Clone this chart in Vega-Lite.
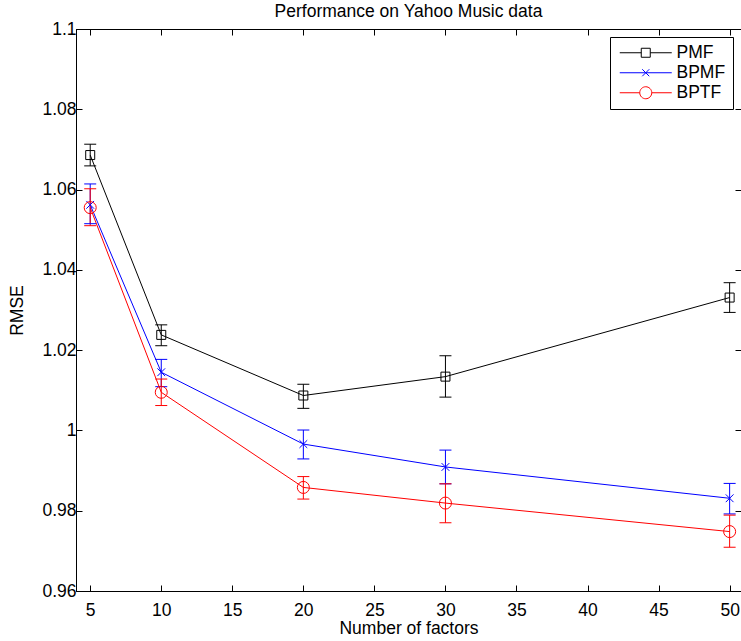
{
  "$schema": "https://vega.github.io/schema/vega-lite/v6.json",
  "width": 665,
  "height": 562,
  "autosize": "none",
  "padding": {"left": 76, "top": 29, "right": 0, "bottom": 50},
  "title": {"text": "Performance on Yahoo Music data", "offset": 0},
  "data": {"values": [
    {"series": "PMF", "factors": 5, "rmse": 1.0686, "lo": 1.0659, "hi": 1.0713},
    {"series": "PMF", "factors": 10, "rmse": 1.0238, "lo": 1.0211, "hi": 1.0263},
    {"series": "PMF", "factors": 20, "rmse": 1.0087, "lo": 1.0055, "hi": 1.0115},
    {"series": "PMF", "factors": 30, "rmse": 1.0134, "lo": 1.0083, "hi": 1.0186},
    {"series": "PMF", "factors": 50, "rmse": 1.0331, "lo": 1.0294, "hi": 1.0368},
    {"series": "BPMF", "factors": 5, "rmse": 1.0562, "lo": 1.0515, "hi": 1.0614},
    {"series": "BPMF", "factors": 10, "rmse": 1.0145, "lo": 1.0109, "hi": 1.0177},
    {"series": "BPMF", "factors": 20, "rmse": 0.9966, "lo": 0.9929, "hi": 1.0001},
    {"series": "BPMF", "factors": 30, "rmse": 0.9909, "lo": 0.9867, "hi": 0.9951},
    {"series": "BPMF", "factors": 50, "rmse": 0.9831, "lo": 0.9792, "hi": 0.9868},
    {"series": "BPTF", "factors": 5, "rmse": 1.0555, "lo": 1.0510, "hi": 1.0602},
    {"series": "BPTF", "factors": 10, "rmse": 1.0095, "lo": 1.0062, "hi": 1.0128},
    {"series": "BPTF", "factors": 20, "rmse": 0.9858, "lo": 0.9829, "hi": 0.9885},
    {"series": "BPTF", "factors": 30, "rmse": 0.9819, "lo": 0.9770, "hi": 0.9867},
    {"series": "BPTF", "factors": 50, "rmse": 0.9748, "lo": 0.9709, "hi": 0.9789}
  ]},
  "layer": [
    {
      "encoding": {
        "x": {"field": "factors", "type": "quantitative",
              "scale": {"domain": [4, 50.8], "nice": false, "zero": false},
              "axis": {"values": [5, 10, 15, 20, 25, 30, 35, 40, 45, 50], "title": "Number of factors", "labelPadding": 16, "titlePadding": 1}}
      },
      "layer": [
        {
          "mark": {"type": "line", "strokeWidth": 1},
          "encoding": {
            "y": {"field": "rmse", "type": "quantitative",
                  "scale": {"domain": [0.96, 1.1], "nice": false, "zero": false},
                  "axis": {"values": [0.96, 0.98, 1, 1.02, 1.04, 1.06, 1.08, 1.1], "format": ".2~f", "title": "RMSE", "labelPadding": 6, "titlePadding": 15}},
            "color": {"field": "series", "type": "nominal",
                      "scale": {"domain": ["PMF", "BPMF", "BPTF"], "range": ["#000000", "#0000ff", "#ff0000"]}}
          }
        },
        {
          "mark": {"type": "rule", "strokeWidth": 1},
          "encoding": {
            "y": {"field": "lo", "type": "quantitative"},
            "y2": {"field": "hi"},
            "color": {"field": "series", "type": "nominal"}
          }
        },
        {
          "mark": {"type": "rule", "strokeWidth": 1, "xOffset": -6, "x2Offset": 6},
          "encoding": {
            "x2": {"field": "factors"},
            "y": {"field": "lo", "type": "quantitative"},
            "color": {"field": "series", "type": "nominal"}
          }
        },
        {
          "mark": {"type": "rule", "strokeWidth": 1, "xOffset": -6, "x2Offset": 6},
          "encoding": {
            "x2": {"field": "factors"},
            "y": {"field": "hi", "type": "quantitative"},
            "color": {"field": "series", "type": "nominal"}
          }
        },
        {
          "transform": [{"filter": "datum.series === 'PMF'"}],
          "mark": {"type": "point", "shape": "square", "size": 81, "filled": false, "color": "#000000", "strokeWidth": 1, "opacity": 1},
          "encoding": {"y": {"field": "rmse", "type": "quantitative"}}
        },
        {
          "transform": [{"filter": "datum.series === 'BPMF'"}],
          "mark": {"type": "point", "shape": "M-1,-1L1,1M-1,1L1,-1", "size": 60, "filled": false, "color": "#0000ff", "strokeWidth": 1, "opacity": 1},
          "encoding": {"y": {"field": "rmse", "type": "quantitative"}}
        },
        {
          "transform": [{"filter": "datum.series === 'BPTF'"}],
          "mark": {"type": "point", "shape": "circle", "size": 144, "filled": false, "color": "#ff0000", "strokeWidth": 1, "opacity": 1},
          "encoding": {"y": {"field": "rmse", "type": "quantitative"}}
        },
        {
          "transform": [{"filter": "datum.factors > 1000"}],
          "mark": {"type": "point", "filled": false, "strokeWidth": 1},
          "encoding": {
            "y": {"field": "rmse", "type": "quantitative"},
            "color": {"field": "series", "type": "nominal"},
            "shape": {"field": "series", "type": "nominal",
                      "scale": {"domain": ["PMF", "BPMF", "BPTF"],
                                "range": ["M-5.2,0H-0.9M0.9,0H5.2M-0.9,-0.9H0.9V0.9H-0.9Z",
                                          "M-5.2,0H5.2M-0.7,-0.7L0.7,0.7M-0.7,0.7L0.7,-0.7",
                                          "M-5.2,0H-1.2M1.2,0H5.2M-1.2,0A1.2,1.2,0,1,0,1.2,0A1.2,1.2,0,1,0,-1.2,0"]}}
          }
        }
      ]
    },
    {
      "mark": {"type": "point", "opacity": 0},
      "encoding": {
        "x": {"field": "factors", "type": "quantitative",
              "axis": {"orient": "top", "values": [5, 10, 15, 20, 25, 30, 35, 40, 45, 50], "labels": false, "title": null}},
        "y": {"field": "rmse", "type": "quantitative",
              "axis": {"orient": "right", "values": [0.96, 0.98, 1, 1.02, 1.04, 1.06, 1.08, 1.1], "labels": false, "title": null}}
      }
    }
  ],
  "resolve": {"axis": {"x": "independent", "y": "independent"}},
  "config": {
    "font": "Liberation Sans",
    "background": "#ffffff",
    "view": {"stroke": "#000000", "strokeWidth": 1},
    "legend": {
      "orient": "top-right", "offset": 8,
      "title": null,
      "symbolSize": 100, "symbolStrokeWidth": 1, "symbolFillColor": "transparent", "symbolOpacity": 1,
      "labelFontSize": 17.5, "labelColor": "#000000",
      "strokeColor": "#000000", "fillColor": "#ffffff",
      "padding": 7, "symbolOffset": 20, "labelOffset": 22, "rowPadding": 1
    },
    "axis": {
      "grid": false,
      "domainColor": "#000000", "domainWidth": 1,
      "tickColor": "#000000", "tickWidth": 1, "tickSize": -6,
      "labelColor": "#000000", "labelFontSize": 17.5, "labelFont": "Liberation Sans",
      "titleColor": "#000000", "titleFontSize": 17.5, "titleFontWeight": "normal", "titleFont": "Liberation Sans"
    },
    "title": {"fontSize": 17.5, "fontWeight": "normal", "color": "#000000", "font": "Liberation Sans"}
  }
}
